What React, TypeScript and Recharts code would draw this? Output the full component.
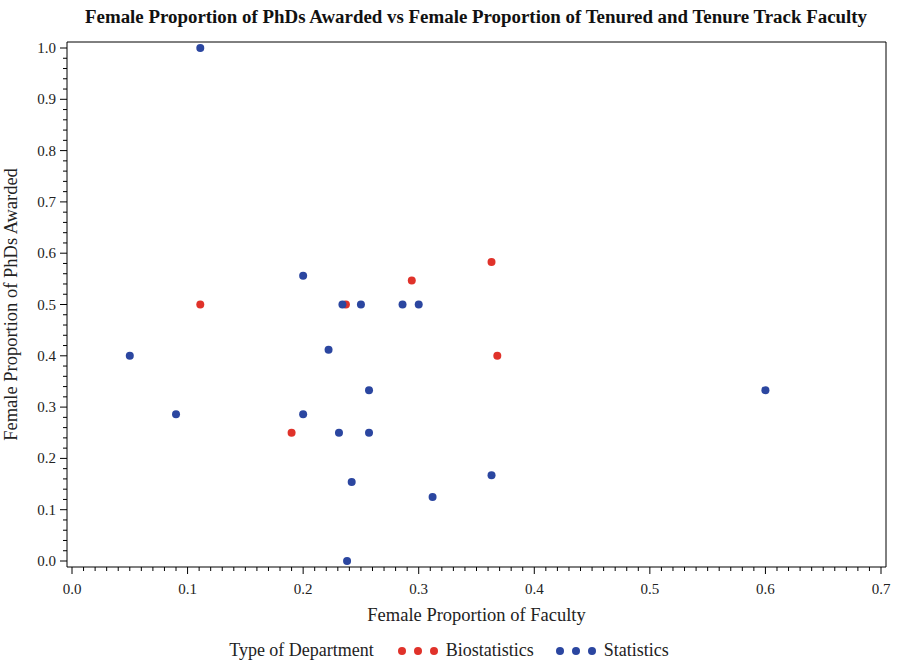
import React from "react"
import { ScatterChart, Scatter, XAxis, YAxis, Legend } from "recharts"

const bioX = [0.111, 0.19, 0.237, 0.294, 0.363, 0.368]
const bioY = [0.5, 0.25, 0.5, 0.547, 0.583, 0.4]

const statX = [0.111, 0.2, 0.234, 0.25, 0.286, 0.3, 0.05, 0.222, 0.257, 0.09, 0.2, 0.231, 0.257, 0.242, 0.363, 0.312, 0.238, 0.6]
const statY = [1.0, 0.556, 0.5, 0.5, 0.5, 0.5, 0.4, 0.412, 0.333, 0.286, 0.286, 0.25, 0.25, 0.154, 0.167, 0.125, 0, 0.333]

const xMajor = [0, 0.1, 0.2, 0.3, 0.4, 0.5, 0.6, 0.7]
const yMajor = [0, 0.1, 0.2, 0.3, 0.4, 0.5, 0.6, 0.7, 0.8, 0.9, 1.0]

const RED = "#e0322a"
const BLUE = "#2b46a0"
const FONT = "'Liberation Serif', 'Times New Roman', serif"

// minor ticks: 10 per major on x, 5 per major on y
const xTicks: number[] = []
for (let i = 0; i < xMajor.length - 1; i++) {
  for (let j = 0; j < 10; j++) xTicks.push(+(xMajor[i] + j * 0.01).toFixed(2))
}
xTicks.push(0.7)
const yTicks: number[] = []
for (let i = 0; i < yMajor.length - 1; i++) {
  for (let j = 0; j < 5; j++) yTicks.push(+(yMajor[i] + j * 0.02).toFixed(2))
}
yTicks.push(1.0)

const bioData = bioX.map((x, i) => ({ x, y: bioY[i] }))
const statData = statX.map((x, i) => ({ x, y: statY[i] }))

const isMajor = (v: number) => Math.abs(v * 10 - Math.round(v * 10)) < 1e-6

function XTick(props: any) {
  const { x, y, payload } = props
  const major = isMajor(payload.value)
  return (
    <g>
      <line x1={x} x2={x} y1={y} y2={y + (major ? 7 : 4)} stroke="#000" />
      {major && (
        <text x={x} y={y + 27} textAnchor="middle" fontSize={15} fontFamily={FONT} fill="#222">
          {payload.value.toFixed(1)}
        </text>
      )}
    </g>
  )
}

function YTick(props: any) {
  const { x, y, payload } = props
  const major = isMajor(payload.value)
  return (
    <g>
      <line x1={x} x2={x - (major ? 7 : 4)} y1={y} y2={y} stroke="#000" />
      {major && (
        <text x={x - 11} y={y + 5} textAnchor="end" fontSize={15} fontFamily={FONT} fill="#222">
          {payload.value.toFixed(1)}
        </text>
      )}
    </g>
  )
}

const Dot = (color: string) => (props: any) => (
  <circle cx={props.cx} cy={props.cy} r={4} fill={color} />
)

function LegendContent() {
  const dots = (c: string) =>
    [0, 1, 2].map((i) => (
      <span key={i} style={{ display: "inline-block", width: 8, height: 8, borderRadius: 4, background: c, marginRight: 8 }} />
    ))
  return (
    <div style={{ display: "flex", alignItems: "center", justifyContent: "center", fontFamily: FONT, fontSize: 18, color: "#222", paddingLeft: 4 }}>
      <span style={{ marginRight: 24 }}>Type of Department</span>
      {dots(RED)}
      <span style={{ marginRight: 22 }}>Biostatistics</span>
      {dots(BLUE)}
      <span>Statistics</span>
    </div>
  )
}

export default function App() {
  return (
    <div style={{ position: "absolute", left: 0, top: 0, width: 898, height: 663, background: "#fff" }}>
      <ScatterChart width={898} height={663} margin={{ top: 41, right: 11, bottom: 0, left: 7 }}>
        <text x={476} y={23} textAnchor="middle" fontSize={18.9} fontWeight="bold" fontFamily={FONT} fill="#111">
          Female Proportion of PhDs Awarded vs Female Proportion of Tenured and Tenure Track Faculty
        </text>
        <XAxis
          type="number"
          dataKey="x"
          domain={[0, 0.7]}
          ticks={xTicks}
          interval={0}
          padding={{ left: 5, right: 5 }}
          height={75}
          stroke="#000"
          tickLine={false}
          tickSize={0}
          tickMargin={0}
          tick={<XTick />}
          label={{ value: "Female Proportion of Faculty", position: "insideTop", offset: 41, fontSize: 18.5, fontFamily: FONT, fill: "#222" }}
        />
        <XAxis xAxisId="top" orientation="top" type="number" dataKey="x" domain={[0, 0.7]} height={1} tick={false} tickLine={false} stroke="#000" />
        <YAxis
          type="number"
          dataKey="y"
          domain={[0, 1]}
          ticks={yTicks}
          interval={0}
          padding={{ top: 6, bottom: 6 }}
          width={60}
          stroke="#000"
          tickLine={false}
          tickSize={0}
          tickMargin={0}
          tick={<YTick />}
          label={{ value: "Female Proportion of PhDs Awarded", angle: -90, position: "insideLeft", offset: 3, fontSize: 18.5, fontFamily: FONT, fill: "#222", style: { textAnchor: "middle" } }}
        />
        <YAxis yAxisId="right" orientation="right" type="number" dataKey="y" domain={[0, 1]} width={1} tick={false} tickLine={false} stroke="#000" />
        <Legend verticalAlign="bottom" content={<LegendContent />} wrapperStyle={{ bottom: 2 }} />
        <Scatter name="Biostatistics" data={bioData} fill={RED} shape={Dot(RED)} isAnimationActive={false} />
        <Scatter name="Statistics" data={statData} fill={BLUE} shape={Dot(BLUE)} isAnimationActive={false} />
      </ScatterChart>
    </div>
  )
}
